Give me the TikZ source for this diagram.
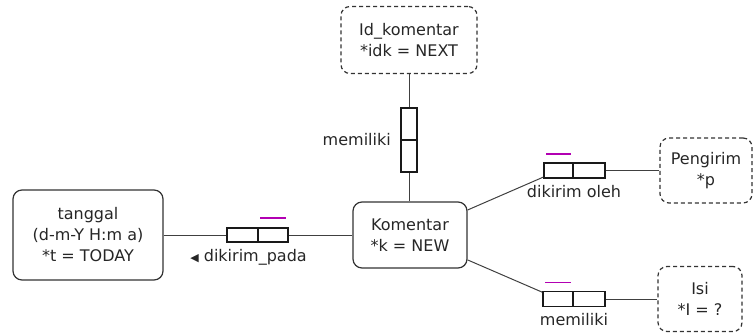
\documentclass[tikz,border=0pt]{standalone}
\usepackage{fontspec}
\setmainfont{DejaVu Sans}
\usepackage{tikz}
\usetikzlibrary{positioning}

\begin{document}
\begin{tikzpicture}[x=1pt, y=-1pt,
        entity/.style={draw=black!80, line width=1.2pt, rounded corners=9pt, align=center,
            text=black!85, font=\fontsize{16}{21}\selectfont, inner sep=0pt},
        keyent/.style={entity, dash pattern=on 4pt off 3pt},
        relbox/.style={draw=black!90, line width=1.8pt, inner sep=0pt},
        link/.style={draw=black!75, line width=1pt},
        lbl/.style={text=black!85, font=\fontsize{16}{19}\selectfont, inner sep=1pt},
        bar/.style={draw=violet!60!magenta, line width=1.5pt}]
        \useasboundingbox (0,0) rectangle (754,334);
        % entities
        \node[entity, minimum width=114pt, minimum height=66pt] (komentar) at (410,235) {Komentar\\*k = NEW};
        \node[entity, minimum width=150pt, minimum height=90pt] (tanggal) at (88,235) {tanggal\\(d-m-Y H:m a)\\*t = TODAY};
        \node[keyent, minimum width=136pt, minimum height=67pt] (idkom) at (409,40) {Id\_komentar\\*idk = NEXT};
        \node[keyent, minimum width=92pt, minimum height=65pt] (pengirim) at (706,170.5) {Pengirim\\*p};
        \node[keyent, minimum width=84pt, minimum height=65pt] (isi) at (700,299) {Isi\\*I = ?};
        % relation boxes
        \node[relbox, minimum width=16pt, minimum height=32pt] (rm1) at (409,124) {};
        \node[relbox, minimum width=16pt, minimum height=32pt] (rm2) at (409,156) {};
        \node[relbox, minimum width=31pt, minimum height=14pt] (rp1) at (242.5,235) {};
        \node[relbox, minimum width=30pt, minimum height=14pt] (rp2) at (273,235) {};
        \node[relbox, minimum width=29pt, minimum height=15pt] (ro1) at (558.5,170.5) {};
        \node[relbox, minimum width=32pt, minimum height=15pt] (ro2) at (589,170.5) {};
        \node[relbox, minimum width=30pt, minimum height=15pt] (ri1) at (558,299) {};
        \node[relbox, minimum width=32pt, minimum height=15pt] (ri2) at (589,299) {};
        % connectors
        \draw[link] (idkom) -- (rm1);
        \draw[link] (rm2) -- (rm2 |- komentar.north);
        \draw[link] (tanggal) -- (rp1);
        \draw[link] (rp2) -- (komentar);
        \draw[link] (komentar) -- (ro1);
        \draw[link] (ro2) -- (pengirim);
        \draw[link] (komentar) -- (ri1);
        \draw[link] (ri2) -- (isi);
        % marks
        \draw[bar] ([xshift=3pt,yshift=9pt]rp2.north west) -- ([xshift=-3pt,yshift=9pt]rp2.north east);
        \draw[bar] ([xshift=3pt,yshift=8pt]ro1.north west) -- ([xshift=-3pt,yshift=8pt]ro1.north east);
        \draw[bar] ([xshift=3pt,yshift=8pt]ri1.north west) -- ([xshift=-3pt,yshift=8pt]ri1.north east);
        % labels
        \node[lbl, anchor=east] (lmem) at (392,140) {memiliki};
        \node[lbl] (lpada) at (248.5,257) {{\fontsize{11}{11}\selectfont ◀}\ dikirim\_pada};
        \node[lbl] (loleh) at (574,192) {dikirim oleh};
        \node[lbl] (lisi) at (574,320) {memiliki};
    \end{tikzpicture}
\end{document}
